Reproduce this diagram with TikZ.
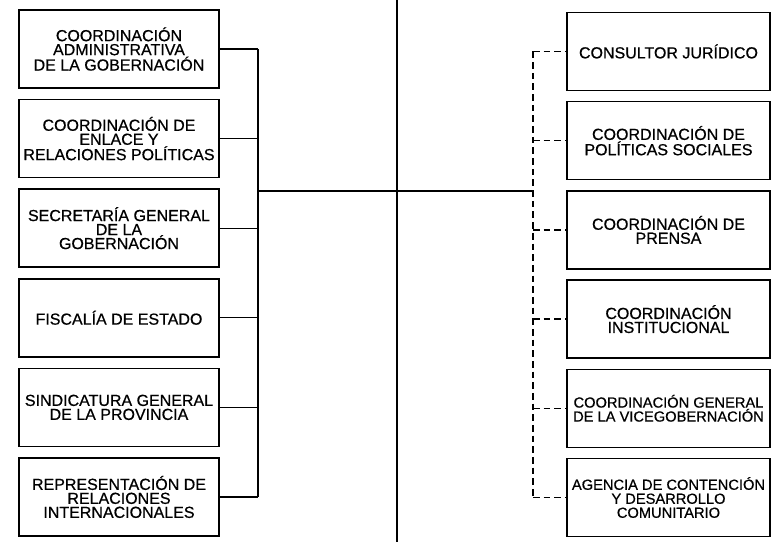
\documentclass[tikz,border=0pt]{standalone}
\usepackage{fontspec}
\setmainfont[FakeBold=0.6]{Liberation Sans}
\usetikzlibrary{positioning,calc}

\begin{document}
\begin{tikzpicture}[x=0.75pt,y=-0.75pt,
    unitbox/.style={draw=black, line width=1.1pt, minimum height=58.5pt, inner sep=1pt,
      align=center, font=\fontsize{12}{10.5}\selectfont},
    leftbox/.style={unitbox, minimum width=150pt},
    rightbox/.style={unitbox, minimum width=152pt},
    narrow/.style={font=\fontsize{11}{10.5}\selectfont},
    link/.style={draw=black, line width=0.9pt},
    dlink/.style={draw=black, line width=1pt, dash pattern=on 5pt off 3pt}]
    % geometry (pixel grid of the chart)
    \def\LX{119} \def\RX{668.5}
    \def\LBUS{258} \def\MID{397} \def\RBUS{533} \def\MAINY{191}
    \useasboundingbox (0,0) rectangle (783,542);

    % left column
    \node[leftbox] (adm) at (\LX,49) {COORDINACIÓN\\ADMINISTRATIVA\\DE LA GOBERNACIÓN};
    \node[leftbox] (enl) at (\LX,138.6) {COORDINACIÓN DE\\ENLACE Y\\RELACIONES POLÍTICAS};
    \node[leftbox] (sec) at (\LX,228.2) {SECRETARÍA GENERAL\\DE LA\\GOBERNACIÓN};
    \node[leftbox] (fis) at (\LX,317.8) {FISCALÍA DE ESTADO};
    \node[leftbox] (sin) at (\LX,407.4) {SINDICATURA GENERAL\\DE LA PROVINCIA};
    \node[leftbox] (rep) at (\LX,497) {REPRESENTACIÓN DE\\RELACIONES\\INTERNACIONALES};

    % right column
    \node[rightbox] (jur) at (\RX,51.5) {CONSULTOR JURÍDICO};
    \node[rightbox] (soc) at (\RX,140.7) {COORDINACIÓN DE\\POLÍTICAS SOCIALES};
    \node[rightbox] (pre) at (\RX,229.9) {COORDINACIÓN DE\\PRENSA};
    \node[rightbox] (ins) at (\RX,319.1) {COORDINACIÓN\\INSTITUCIONAL};
    \node[rightbox, narrow] (vic) at (\RX,408.3) {COORDINACIÓN GENERAL\\DE LA VICEGOBERNACIÓN};
    \node[rightbox, narrow] (age) at (\RX,497.5) {AGENCIA DE CONTENCIÓN\\Y DESARROLLO\\COMUNITARIO};

    % buses
    \coordinate (lbus) at (\LBUS,\MAINY);
    \coordinate (rbus) at (\RBUS,\MAINY);
    \coordinate (top) at (\MID,0);
    \coordinate (bottom) at (\MID,542);

    % central axis and main link
    \draw[link] (top) -- (bottom);
    \draw[link] (lbus) -- (rbus);

    % left links (solid)
    \draw[link] (adm.east -| lbus) -- (rep.east -| lbus);
    \draw[link] (adm.east) -- (adm.east -| lbus);
    \draw[link] (enl.east) -- (enl.east -| lbus);
    \draw[link] (sec.east) -- (sec.east -| lbus);
    \draw[link] (fis.east) -- (fis.east -| lbus);
    \draw[link] (sin.east) -- (sin.east -| lbus);
    \draw[link] (rep.east) -- (rep.east -| lbus);

    % right links (dashed)
    \draw[dlink] (jur.west -| rbus) -- (age.west -| rbus);
    \draw[dlink] (jur.west -| rbus) -- (jur.west);
    \draw[dlink] (soc.west -| rbus) -- (soc.west);
    \draw[dlink] (pre.west -| rbus) -- (pre.west);
    \draw[dlink] (ins.west -| rbus) -- (ins.west);
    \draw[dlink] (vic.west -| rbus) -- (vic.west);
    \draw[dlink] (age.west -| rbus) -- (age.west);
\end{tikzpicture}
\end{document}
